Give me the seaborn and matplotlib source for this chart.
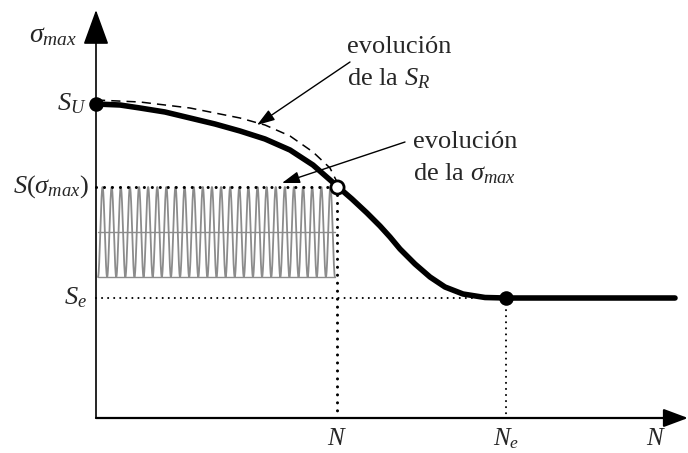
import numpy as np
import pandas as pd
import matplotlib
matplotlib.use("Agg")
import matplotlib.pyplot as plt
import seaborn as sns

# --- data (N: cycles, S: stress, arbitrary units) ---
# resistance curve sigma_max(N) after loading
curve_N = [0, 24, 44, 69, 94, 119, 144, 169, 194, 217, 241, 256, 271, 284,
           294, 304, 319, 334, 349, 367, 389, 410, 579]
curve_S = [314, 313, 310, 306, 300, 294, 287, 279, 268, 253, 232, 219, 205,
           192, 181, 169, 154, 141, 131, 124, 120.5, 120, 120]

# evolution of the residual strength S_R
sr_N = [0, 44, 94, 144, 169, 194, 217, 234, 242]
sr_S = [318, 316, 310, 300, 293, 282, 266, 250, 234]

# key levels
S_U = 314
S_sig = 231
S_e = 120
N_1 = 241
N_e = 410

# cyclic load
load_max = 231
load_min = 141
load_N_start = 2
load_N_end = 239
load_cycles = 26

# axis extents
N_axis_end = 592
S_axis_end = 408

# --- figure ---
sns.set_style("white")
plt.rcParams["font.family"] = ["Liberation Serif", "DejaVu Serif"]
plt.rcParams["mathtext.fontset"] = "custom"
plt.rcParams["mathtext.rm"] = "Liberation Serif"
plt.rcParams["mathtext.it"] = "Liberation Serif:italic"

fig = plt.figure(figsize=(6.88, 4.53), dpi=100)
ax = fig.add_axes([0, 0, 1, 1])
ax.set_xlim(-96, 592)
ax.set_ylim(-35, 418)
ax.set_axis_off()

# cyclic load (sinusoid between load_min and load_max)
t = np.linspace(0, 1, 3000)
load_mean = (load_max + load_min) / 2
load_amp = (load_max - load_min) / 2
load = pd.DataFrame({
    "N": load_N_start + t * (load_N_end - load_N_start),
    "S": load_mean - load_amp * np.cos(2 * np.pi * load_cycles * t),
})
sns.lineplot(data=load, x="N", y="S", ax=ax, color="#8c8c8c", lw=1.3,
             sort=False, estimator=None)
for lvl in (load_mean, load_min):
    sns.lineplot(x=[load_N_start, load_N_end], y=[lvl, lvl], ax=ax,
                 color="#8c8c8c", lw=1.0)

# reference dotted lines
big_dots = dict(color="black", lw=2.2, linestyle=(0, (0.01, 2.6)),
                dash_capstyle="round")
small_dots = dict(color="black", lw=1.5, linestyle=(0, (0.01, 2.9)),
                  dash_capstyle="round")
ax.plot([0, N_1], [S_sig, S_sig], **big_dots)
ax.plot([N_1, N_1], [S_sig, 0], **big_dots)
ax.plot([0, N_e], [S_e, S_e], **small_dots)
ax.plot([N_e, N_e], [S_e, 0], **small_dots)

# residual strength (dashed) and sigma_max curve (thick)
sns.lineplot(x=sr_N, y=sr_S, ax=ax, color="black", lw=1.1,
             linestyle=(0, (6, 4)), sort=False, estimator=None)
sns.lineplot(x=curve_N, y=curve_S, ax=ax, color="black", lw=4.0,
             sort=False, estimator=None)

# axes with arrows
ax.annotate("", xy=(0, S_axis_end), xytext=(0, 0),
            arrowprops=dict(arrowstyle="-|>,head_length=1.1,head_width=0.4",
                            mutation_scale=20, lw=1.2, color="black",
                            shrinkA=0, shrinkB=0))
ax.annotate("", xy=(N_axis_end, 0), xytext=(0, 0),
            arrowprops=dict(arrowstyle="-|>,head_length=0.75,head_width=0.28",
                            mutation_scale=20, lw=1.6, color="black",
                            shrinkA=0, shrinkB=0))

# marked points
sns.scatterplot(x=[0, N_e], y=[S_U, S_e], ax=ax, color="black", s=110,
                edgecolor="black", linewidth=0, zorder=5)
sns.scatterplot(x=[N_1], y=[S_sig], ax=ax, color="white", s=90,
                edgecolor="black", linewidth=2.0, zorder=6)

# labels
fs = 19
ax.text(-19, 382, r"$\sigma_{max}$", fontsize=20, ha="right", va="center")
ax.text(-9, S_U, r"$S_U$", fontsize=fs, ha="right", va="center")
ax.text(-7, S_sig, r"$S(\sigma_{max})$", fontsize=fs, ha="right", va="center")
ax.text(-9, S_e, r"$S_e$", fontsize=fs, ha="right", va="center")
ax.text(N_1, -21, r"$N$", fontsize=18, ha="center", va="center")
ax.text(N_e, -21, r"$N_e$", fontsize=18, ha="center", va="center")
ax.text(560, -21, r"$N$", fontsize=18, ha="center", va="center")

ax.text(251, 365, "evolución", fontsize=fs, ha="left", va="baseline")
ax.text(251, 333, r"de la $S_R$", fontsize=fs, ha="left", va="baseline")
ax.text(317, 270, "evolución", fontsize=fs, ha="left", va="baseline")
ax.text(317, 238, r"de la $\sigma_{max}$", fontsize=fs, ha="left",
        va="baseline")

arrow_kw = dict(arrowstyle="-|>,head_length=0.6,head_width=0.2",
                mutation_scale=18, lw=1.0, color="black",
                shrinkA=0, shrinkB=0)
ax.annotate("", xy=(161, 293), xytext=(254, 356), arrowprops=arrow_kw)
ax.annotate("", xy=(186, 235), xytext=(309, 276), arrowprops=arrow_kw)

fig.savefig("out.png", dpi=100)
